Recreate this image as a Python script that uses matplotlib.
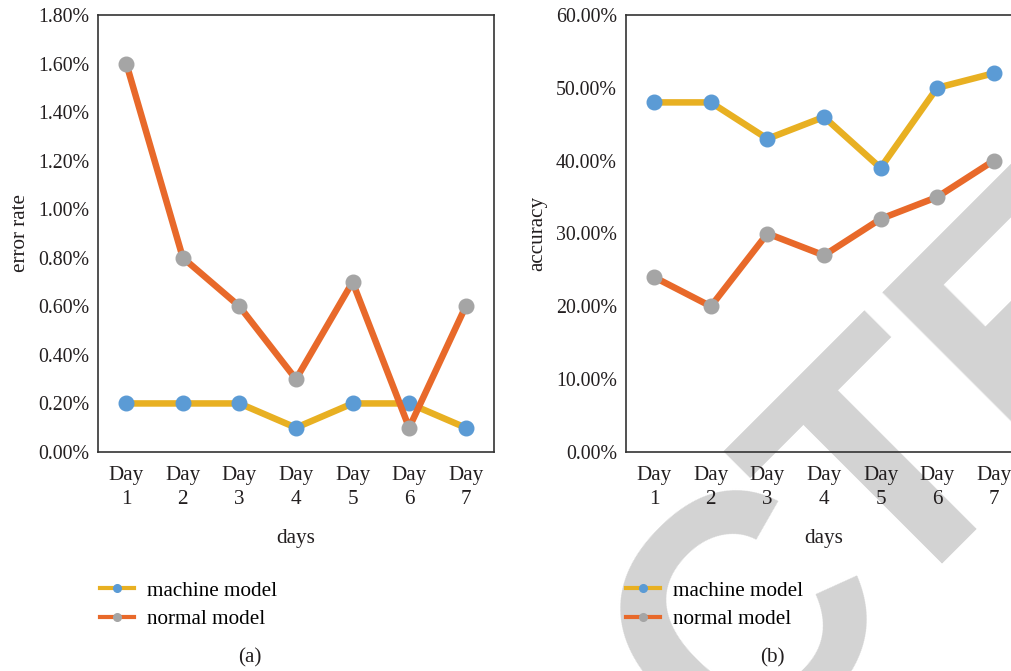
import math
import matplotlib
matplotlib.use("Agg")
import matplotlib.pyplot as plt
from matplotlib.ticker import FuncFormatter, MultipleLocator

plt.rcParams['font.family'] = ['Liberation Serif', 'DejaVu Serif']

days = ["Day\n1", "Day\n2", "Day\n3", "Day\n4", "Day\n5", "Day\n6", "Day\n7"]
series_names = ["machine model", "normal model"]

# (a) error rate, in percent
err_machine = [0.2, 0.2, 0.2, 0.1, 0.2, 0.2, 0.1]
err_normal = [1.6, 0.8, 0.6, 0.3, 0.7, 0.1, 0.6]

# (b) accuracy, in percent
acc_machine = [48, 48, 43, 46, 39, 50, 52]
acc_normal = [24, 20, 30, 27, 32, 35, 40]

W, H = 1012, 671
fig = plt.figure(figsize=(W / 100, H / 100), dpi=100)

C_YEL = '#E8B022'
C_ORG = '#E8692A'
C_BLUE = '#5B9BD5'
C_GRAY = '#A5A5A5'
C_TXT = '#231f20'
FS_NUM = 14.3
FS = 15.2


def fx(px):
    return px / W


def fy(py):
    return 1 - py / H


def make_panel(left_px, data_m, data_n, ymax, ystep, decimals, ylabel, ylabel_x,
               tag, tag_x, legend_x):
    ax = fig.add_axes([fx(left_px), fy(452), 396 / W, (452 - 15) / H])
    ax.set_facecolor('none')
    x = list(range(len(days)))
    ax.plot(x, data_m, color=C_YEL, lw=4.7, marker='o', ms=10.5,
            mfc=C_BLUE, mec=C_BLUE, label=series_names[0], zorder=3,
            solid_joinstyle='round')
    ax.plot(x, data_n, color=C_ORG, lw=4.7, marker='o', ms=10.5,
            mfc=C_GRAY, mec=C_GRAY, label=series_names[1], zorder=3,
            solid_joinstyle='round')
    ax.set_xlim(-0.5, len(days) - 0.5)
    ax.set_ylim(0, ymax)
    ax.yaxis.set_major_locator(MultipleLocator(ystep))
    ax.yaxis.set_major_formatter(FuncFormatter(lambda v, p: f"{v:.{decimals}f}%"))
    ax.set_xticks(x)
    ax.set_xticklabels(days, fontsize=FS, linespacing=1.4)
    ax.tick_params(axis='both', length=0, colors=C_TXT)
    ax.tick_params(axis='y', pad=6.5, labelsize=FS_NUM)
    ax.tick_params(axis='x', pad=10)
    for s in ax.spines.values():
        s.set_color('#333333')
        s.set_linewidth(1.2)
    ax.set_xlabel('days', fontsize=FS, labelpad=14, color=C_TXT)
    ax.set_ylabel(ylabel, fontsize=FS, color=C_TXT)
    ax.yaxis.set_label_coords((ylabel_x + 12 - left_px) / 396, 0.5)
    handles = [
        plt.Line2D([], [], color=C_YEL, lw=3, marker='o', ms=5.5, mfc=C_BLUE, mec=C_BLUE),
        plt.Line2D([], [], color=C_ORG, lw=3, marker='o', ms=5.5, mfc=C_GRAY, mec=C_GRAY),
    ]
    fig.legend(handles, series_names, loc='center left',
               bbox_to_anchor=(fx(legend_x), fy(605)), bbox_transform=fig.transFigure,
               frameon=False, fontsize=FS, handlelength=1.6, handletextpad=0.62,
               labelspacing=0.42, borderpad=0, borderaxespad=0)
    fig.text(fx(tag_x), fy(658), tag, fontsize=FS, ha='center', va='center', color=C_TXT)
    return ax


ax1 = make_panel(98, err_machine, err_normal, 1.8, 0.2, 2, 'error rate', 18,
                 '(a)', 250, 100)
ax2 = make_panel(626, acc_machine, acc_normal, 60, 10, 2, 'accuracy', 535,
                 '(b)', 772, 626)

# RETRACTED watermark (rotated 45 degrees, behind everything)
wm = dict(rotation=45, rotation_mode='anchor', va='baseline', fontsize=244,
          color='#D3D3D3', family='Liberation Sans', weight='bold', zorder=-5)
v0 = 1062


def uv_to_fig(u, v):
    return fx((u + v) / math.sqrt(2)), fy((v - u) / math.sqrt(2))


fig.text(*uv_to_fig(216, v0), 'RETRAC', ha='right', **wm)
fig.text(*uv_to_fig(190, v0), 'TED', ha='left', **wm)

fig.savefig('out.png', dpi=100)
